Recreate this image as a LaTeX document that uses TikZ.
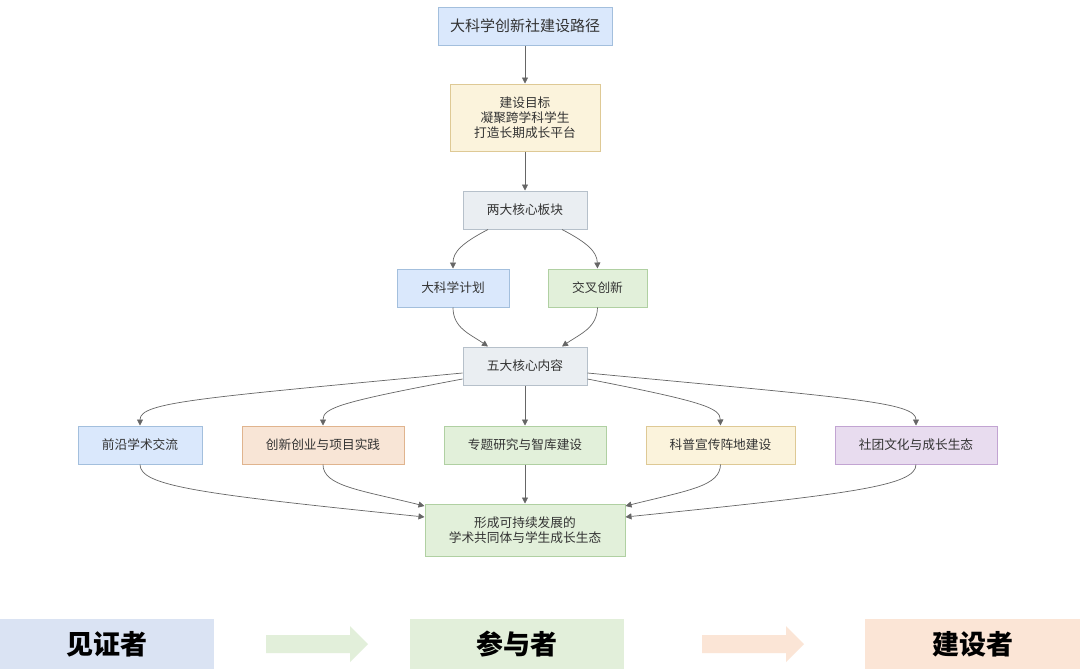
\documentclass[tikz,border=0pt]{standalone}
\usepackage{fontspec}
\setmainfont{Noto Sans CJK SC}
\usetikzlibrary{arrows.meta}
\definecolor{txt}{HTML}{333333}
\definecolor{edge}{HTML}{666666}
\definecolor{bfill}{HTML}{DAE8FC}\definecolor{bdraw}{HTML}{A3BFDD}
\definecolor{yfill}{HTML}{FBF3DC}\definecolor{ydraw}{HTML}{DEC995}
\definecolor{gfill}{HTML}{EAEEF2}\definecolor{gdraw}{HTML}{B6C0CA}
\definecolor{grfill}{HTML}{E2F0DA}\definecolor{grdraw}{HTML}{B0D0A2}
\definecolor{ofill}{HTML}{F8E5D6}\definecolor{odraw}{HTML}{E0B48E}
\definecolor{pfill}{HTML}{E8DCEF}\definecolor{pdraw}{HTML}{C2A4D2}
\definecolor{b1}{HTML}{DAE3F3}\definecolor{b2}{HTML}{E2EFDA}\definecolor{b3}{HTML}{FBE5D6}
\tikzset{
 box/.style={draw, line width=1pt, inner sep=0pt, align=center, text=txt, font=\fontsize{12.7}{15}\selectfont},
 conn/.style={draw=edge, line width=0.7pt, -{Triangle[width=6pt,length=6pt]}},
 big/.style={inner sep=0pt, font=\fontsize{27}{30}\bfseries\selectfont, text=black},
 band/.style={inner sep=0pt, minimum height=50pt},
}
\begin{document}
\begin{tikzpicture}[x=1pt,y=-1pt]
\useasboundingbox[fill=white] (0,0) rectangle (1080,670);
\node[box, fill=bfill, draw=bdraw, minimum width=174pt, minimum height=38pt, font=\fontsize{15}{18}\selectfont] (title) at (525,26) {大科学创新社建设路径};
\node[box, fill=yfill, draw=ydraw, minimum width=150pt, minimum height=67pt] (goal) at (525,117.5) {建设目标\\凝聚跨学科学生\\打造长期成长平台};
\node[box, fill=gfill, draw=gdraw, minimum width=124pt, minimum height=38pt] (two) at (525,210) {两大核心板块};
\node[box, fill=bfill, draw=bdraw, minimum width=112pt, minimum height=38pt] (dk) at (453,288) {大科学计划};
\node[box, fill=grfill, draw=grdraw, minimum width=99pt, minimum height=38pt] (jc) at (597.5,288) {交叉创新};
\node[box, fill=gfill, draw=gdraw, minimum width=124pt, minimum height=38pt] (five) at (525,366) {五大核心内容};
\node[box, fill=bfill, draw=bdraw, minimum width=124pt, minimum height=38pt] (qy) at (140,445) {前沿学术交流};
\node[box, fill=ofill, draw=odraw, minimum width=162pt, minimum height=38pt] (cx) at (323,445) {创新创业与项目实践};
\node[box, fill=grfill, draw=grdraw, minimum width=162pt, minimum height=38pt] (zt) at (525,445) {专题研究与智库建设};
\node[box, fill=yfill, draw=ydraw, minimum width=149pt, minimum height=38pt] (kp) at (720.5,445) {科普宣传阵地建设};
\node[box, fill=pfill, draw=pdraw, minimum width=162pt, minimum height=38pt] (st) at (916,445) {社团文化与成长生态};
\node[box, fill=grfill, draw=grdraw, minimum width=200pt, minimum height=52pt] (fin) at (525,530) {形成可持续发展的\\学术共同体与学生成长生态};

\draw[conn] (title.south) -- (goal.north);
\draw[conn] (goal.south) -- (two.north);
\draw[conn] ([xshift=-37pt]two.south) .. controls (462,243) and (453,252) .. (dk.north);
\draw[conn] ([xshift=37pt]two.south) .. controls (588,243) and (597,252) .. (jc.north);
\draw[conn] (dk.south) .. controls (453,328) and (470,334) .. ([xshift=-37pt]five.north);
\draw[conn] (jc.south) .. controls (597,328) and (580,334) .. ([xshift=37pt]five.north);
\draw[conn] ([yshift=-7pt]five.west) .. controls (200,398) and (140,402) .. (qy.north);
\draw[conn] ([yshift=-13pt]five.west) .. controls (340,402) and (323,408) .. (cx.north);
\draw[conn] (five.south) -- (zt.north);
\draw[conn] ([yshift=-13pt]five.east) .. controls (705,402) and (720,408) .. (kp.north);
\draw[conn] ([yshift=-7pt]five.east) .. controls (850,398) and (916,402) .. (st.north);
\draw[conn] (qy.south) .. controls (140,486) and (200,494) .. ([yshift=13pt]fin.west);
\draw[conn] (cx.south) .. controls (323,486) and (360,490) .. ([yshift=24pt]fin.west);
\draw[conn] (zt.south) -- (fin.north);
\draw[conn] (kp.south) .. controls (720,486) and (690,490) .. ([yshift=24pt]fin.east);
\draw[conn] (st.south) .. controls (916,486) and (850,494) .. ([yshift=13pt]fin.east);

\node[band, fill=b1, minimum width=214pt] (w) at (107,644) {};
\node[big] at (w) {见证者};
\node[band, fill=b2, minimum width=214pt] (p) at (517,644) {};
\node[big] at (p) {参与者};
\node[band, fill=b3, minimum width=215pt] (c) at (972.5,644) {};
\node[big] at (c) {建设者};
\fill[b2] (266,635) -- (350,635) -- (350,626) -- (368,644) -- (350,662) -- (350,653) -- (266,653) -- cycle;
\fill[b3] (702,635) -- (786,635) -- (786,626) -- (804,644) -- (786,662) -- (786,653) -- (702,653) -- cycle;
\end{tikzpicture}
\end{document}
